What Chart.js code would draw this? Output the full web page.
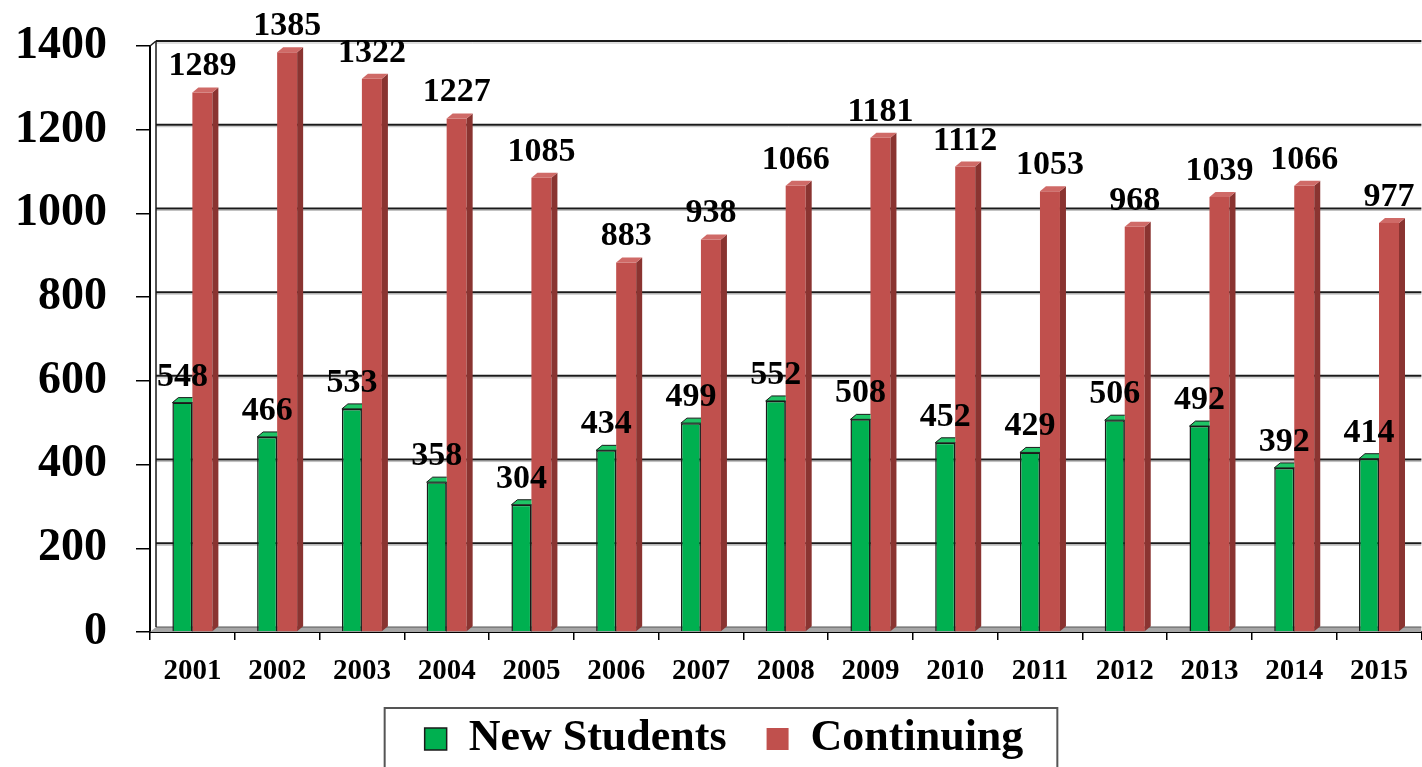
<!DOCTYPE html>
<html>
<head>
<meta charset="utf-8">
<script src="https://cdn.jsdelivr.net/npm/chart.js@4.4.1/dist/chart.umd.min.js"></script>
<style>
  html, body { margin: 0; padding: 0; background: #ffffff; }
  #wrap { width: 1422px; height: 767px; position: relative; }
</style>
</head>
<body>
<div id="wrap"><canvas id="c" width="1422" height="767"></canvas></div>
<script>
const categories = ['2001','2002','2003','2004','2005','2006','2007','2008','2009','2010','2011','2012','2013','2014','2015'];
const newStudents = [548, 466, 533, 358, 304, 434, 499, 552, 508, 452, 429, 506, 492, 392, 414];
const continuing = [1289, 1385, 1322, 1227, 1085, 883, 938, 1066, 1181, 1112, 1053, 968, 1039, 1066, 977];
const yTicks = [0, 200, 400, 600, 800, 1000, 1200, 1400];
const seriesNames = ['New Students', 'Continuing'];

const FONT = '"Liberation Serif", "Times New Roman", serif';
const DX = 6, DY = 5;
const LEGEND_H = 75, LEGEND_TOP = 677, LEGEND_SHIFT = 13;

const backdrop = {
  id: 'backdrop',
  beforeLayout(chart) {
    const lg = chart.legend;
    if (lg && !lg._wrapped) {
      const orig = lg.fit;
      lg.fit = function () { orig.call(this); this.height = LEGEND_H; };
      lg._wrapped = true;
    }
  },
  afterLayout(chart) {
    const lg = chart.legend;
    if (lg) {
      lg.top = LEGEND_TOP;
      lg.bottom = chart.height;
      lg.height = chart.height - LEGEND_TOP;
      lg.left += LEGEND_SHIFT;
      lg.right += LEGEND_SHIFT;
    }
  },
  beforeDatasetsDraw(chart) {
    const ctx = chart.ctx, a = chart.chartArea, ys = chart.scales.y;
    ctx.save();
    // floor
    ctx.beginPath();
    ctx.moveTo(a.left, a.bottom);
    ctx.lineTo(a.left + DX, a.bottom - DY);
    ctx.lineTo(a.right, a.bottom - DY);
    ctx.lineTo(a.right, a.bottom);
    ctx.closePath();
    ctx.fillStyle = '#a6a6a6';
    ctx.fill();
    ctx.strokeStyle = '#555';
    ctx.lineWidth = 1;
    ctx.beginPath();
    ctx.moveTo(a.left + DX, a.bottom - DY);
    ctx.lineTo(a.right, a.bottom - DY);
    ctx.stroke();
    // back wall grid lines
    yTicks.forEach(v => {
      if (v === 0) return;
      const py = ys.getPixelForValue(v) - DY;
      ctx.strokeStyle = '#bdbdbd';
      ctx.lineWidth = 1;
      ctx.beginPath();
      ctx.moveTo(a.left + DX, py + 2);
      ctx.lineTo(a.right, py + 2);
      ctx.stroke();
      ctx.strokeStyle = '#1a1a1a';
      ctx.lineWidth = 2;
      ctx.beginPath();
      ctx.moveTo(a.left + DX, py);
      ctx.lineTo(a.right, py);
      ctx.stroke();
    });
    // back wall left edge + corner
    ctx.strokeStyle = '#1a1a1a';
    ctx.lineWidth = 1.5;
    ctx.beginPath();
    ctx.moveTo(a.left + DX, a.top - DY);
    ctx.lineTo(a.left + DX, a.bottom - DY);
    ctx.stroke();
    ctx.beginPath();
    ctx.moveTo(a.left, a.top);
    ctx.lineTo(a.left + DX, a.top - DY);
    ctx.stroke();
    ctx.restore();
  }
};

const faces = {
  id: 'faces',
  afterDatasetDraw(chart, args) {
    const ctx = chart.ctx;
    const ds = chart.data.datasets[args.index];
    args.meta.data.forEach(bar => {
      const p = bar.getProps(['x', 'y', 'base', 'width'], true);
      const l = p.x - p.width / 2, r = p.x + p.width / 2, t = p.y, b = p.base;
      ctx.save();
      if (ds.hiddenSide) {
        ctx.beginPath();
        ctx.rect(l - 2, 0, r - l + 2, chart.height);
        ctx.clip();
      }
      ctx.beginPath();
      ctx.moveTo(r, t);
      ctx.lineTo(r + DX, t - DY);
      ctx.lineTo(r + DX, b - DY);
      ctx.lineTo(r, b);
      ctx.closePath();
      ctx.fillStyle = ds.sideColor;
      ctx.fill();
      if (ds.outline) { ctx.strokeStyle = ds.outline; ctx.lineWidth = 1; ctx.stroke(); }
      ctx.beginPath();
      ctx.moveTo(l, t);
      ctx.lineTo(l + DX, t - DY);
      ctx.lineTo(r + DX, t - DY);
      ctx.lineTo(r, t);
      ctx.closePath();
      ctx.fillStyle = ds.topColor;
      ctx.fill();
      if (ds.outline) { ctx.strokeStyle = ds.outline; ctx.lineWidth = 1; ctx.stroke(); }
      ctx.restore();
    });
  }
};

const valueLabels = {
  id: 'valueLabels',
  afterDatasetsDraw(chart) {
    const ctx = chart.ctx;
    ctx.save();
    ctx.font = 'bold 34px ' + FONT;
    ctx.fillStyle = '#000';
    ctx.textAlign = 'center';
    ctx.textBaseline = 'alphabetic';
    chart.data.datasets.forEach((ds, i) => {
      chart.getDatasetMeta(i).data.forEach((bar, j) => {
        const p = bar.getProps(['x', 'y'], true);
        ctx.fillText(String(ds.data[j]), p.x, p.y - 17);
      });
    });
    ctx.restore();
  },
  afterDraw(chart) {
    const lg = chart.legend;
    if (!lg || !lg.legendHitBoxes || !lg.legendHitBoxes.length) return;
    const hb = lg.legendHitBoxes;
    const first = hb[0], last = hb[hb.length - 1];
    const cy = first.top + first.height / 2;
    const ctx = chart.ctx;
    ctx.save();
    ctx.strokeStyle = '#555';
    ctx.lineWidth = 2;
    const x0 = first.left - 40, x1 = last.left + last.width + 34;
    ctx.strokeRect(x0, cy - 31, x1 - x0, 100);
    ctx.restore();
  }
};

const chart = new Chart(document.getElementById('c'), {
  type: 'bar',
  data: {
    labels: categories,
    datasets: [
      {
        label: seriesNames[0],
        data: newStudents,
        backgroundColor: '#00B050',
        borderColor: '#1a1a1a',
        borderWidth: 1.5,
        sideColor: '#00803a',
        topColor: '#1fc466',
        outline: '#1a1a1a',
        hiddenSide: true
      },
      {
        label: seriesNames[1],
        data: continuing,
        backgroundColor: '#C0504D',
        borderColor: '#C0504D',
        borderWidth: 0,
        sideColor: '#8a3431',
        topColor: '#cf6a67',
        outline: null,
        hiddenSide: false
      }
    ]
  },
  options: {
    responsive: false,
    animation: false,
    devicePixelRatio: 1,
    categoryPercentage: 0.472,
    barPercentage: 1.0,
    layout: { padding: { top: 46, right: 0, left: 0, bottom: 0 } },
    plugins: {
      legend: {
        position: 'bottom',
        labels: {
          font: { family: FONT, size: 44, weight: 'bold' },
          color: '#000',
          boxWidth: 22,
          boxHeight: 22,
          padding: 40
        }
      },
      tooltip: { enabled: false }
    },
    scales: {
      x: {
        afterFit(scale) { scale.height = 60; },
        grid: { offset: true, drawOnChartArea: false, drawTicks: true, tickLength: 8, color: '#000', lineWidth: 1.5 },
        border: { display: true, color: '#000', width: 2 },
        ticks: { font: { family: FONT, size: 29, weight: 'bold' }, color: '#000', padding: 14, maxRotation: 0, autoSkip: false }
      },
      y: {
        min: 0,
        max: 1400,
        afterFit(scale) { scale.width = 150; scale.paddingTop = 0; scale.paddingBottom = 0; },
        afterBuildTicks(scale) { scale.ticks = yTicks.map(v => ({ value: v })); },
        grid: { drawOnChartArea: false, drawTicks: true, tickLength: 14, color: '#000', lineWidth: 1.5 },
        border: { display: true, color: '#000', width: 2 },
        ticks: { font: { family: FONT, size: 46, weight: 'bold' }, color: '#000', padding: 29, callback: v => String(v) }
      }
    }
  },
  plugins: [backdrop, faces, valueLabels]
});
</script>
</body>
</html>
